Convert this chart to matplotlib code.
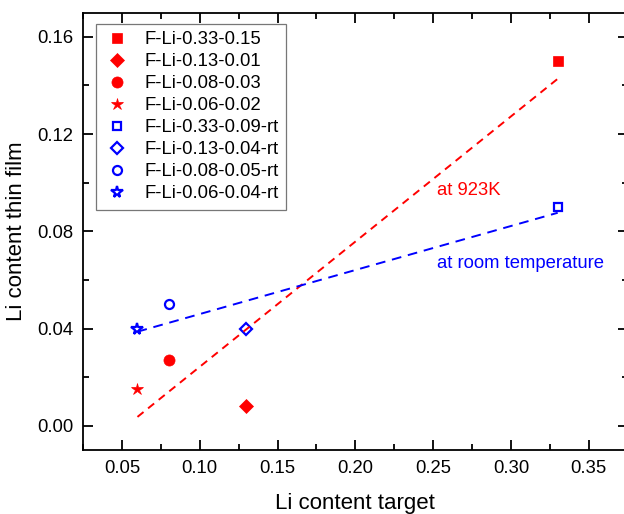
import matplotlib
matplotlib.use("Agg")
import matplotlib.pyplot as plt
import numpy as np
from matplotlib.ticker import MultipleLocator, FormatStrFormatter

plt.rcParams['font.family'] = ['Liberation Sans', 'DejaVu Sans']

# samples deposited at 923 K
hot_names = ['F-Li-0.33-0.15', 'F-Li-0.13-0.01', 'F-Li-0.08-0.03', 'F-Li-0.06-0.02']
hot_target = [0.33, 0.13, 0.08, 0.06]
hot_film = [0.150, 0.008, 0.027, 0.015]

# samples deposited at room temperature
rt_names = ['F-Li-0.33-0.09-rt', 'F-Li-0.13-0.04-rt', 'F-Li-0.08-0.05-rt', 'F-Li-0.06-0.04-rt']
rt_target = [0.33, 0.13, 0.08, 0.06]
rt_film = [0.090, 0.040, 0.050, 0.040]

markers = ['s', 'D', 'o', '*']
hot_sizes = [7, 7.5, 8, 9]
rt_sizes = [5.5, 6.5, 6.5, 8.5]

fig = plt.figure(figsize=(6.24, 5.14), dpi=100)
ax = fig.add_axes([0.133, 0.1245, 0.873, 0.851])

for name, x, y, m, s in zip(hot_names, hot_target, hot_film, markers, hot_sizes):
    ax.plot(x, y, linestyle='none', marker=m, color='#ff0000', markersize=s,
            markeredgewidth=0.5, label=name)
for name, x, y, m, s in zip(rt_names, rt_target, rt_film, markers, rt_sizes):
    ax.plot(x, y, linestyle='none', marker=m, color='#0000ff', markersize=s,
            markerfacecolor='none', markeredgewidth=1.6, label=name)

# linear fits for both series
for xs, ys, col, dash in [(hot_target, hot_film, '#ff0000', (4, 3)),
                          (rt_target, rt_film, '#0000ff', (5, 3.5))]:
    k, b = np.polyfit(xs, ys, 1)
    xf = np.array([min(xs), max(xs)])
    ax.plot(xf, k * xf + b, linestyle=(0, dash), color=col, linewidth=1.4)

ax.text(0.2524, 0.0967, 'at 923K', color='#ff0000', fontsize=13.3, va='center')
ax.text(0.2524, 0.0666, 'at room temperature', color='#0000ff', fontsize=13.3, va='center')

ax.set_xlim(0.025, 0.375)
ax.set_ylim(-0.01, 0.17)
ax.xaxis.set_major_locator(MultipleLocator(0.05))
ax.xaxis.set_minor_locator(MultipleLocator(0.025))
ax.yaxis.set_major_locator(MultipleLocator(0.04))
ax.yaxis.set_minor_locator(MultipleLocator(0.02))
ax.xaxis.set_major_formatter(FormatStrFormatter('%.2f'))
ax.yaxis.set_major_formatter(FormatStrFormatter('%.2f'))
ax.tick_params(which='both', direction='in', top=True, right=True, width=1.3)
ax.tick_params(which='major', length=7, labelsize=13.3, pad=7)
ax.tick_params(which='minor', length=4)
for sp in ax.spines.values():
    sp.set_linewidth(1.3)

ax.set_xlabel('Li content target', fontsize=16, labelpad=12)
ax.set_ylabel('Li content thin film', fontsize=16, labelpad=7)

leg = ax.legend(loc='upper left', bbox_to_anchor=(0.024, 0.974), fontsize=13.3,
                frameon=True, fancybox=False, handletextpad=0.7, labelspacing=0.27,
                borderpad=0.4, handlelength=1.5, borderaxespad=0)
leg.get_frame().set_edgecolor('#555555')
leg.get_frame().set_linewidth(0.9)

fig.savefig('out.png', dpi=100)
